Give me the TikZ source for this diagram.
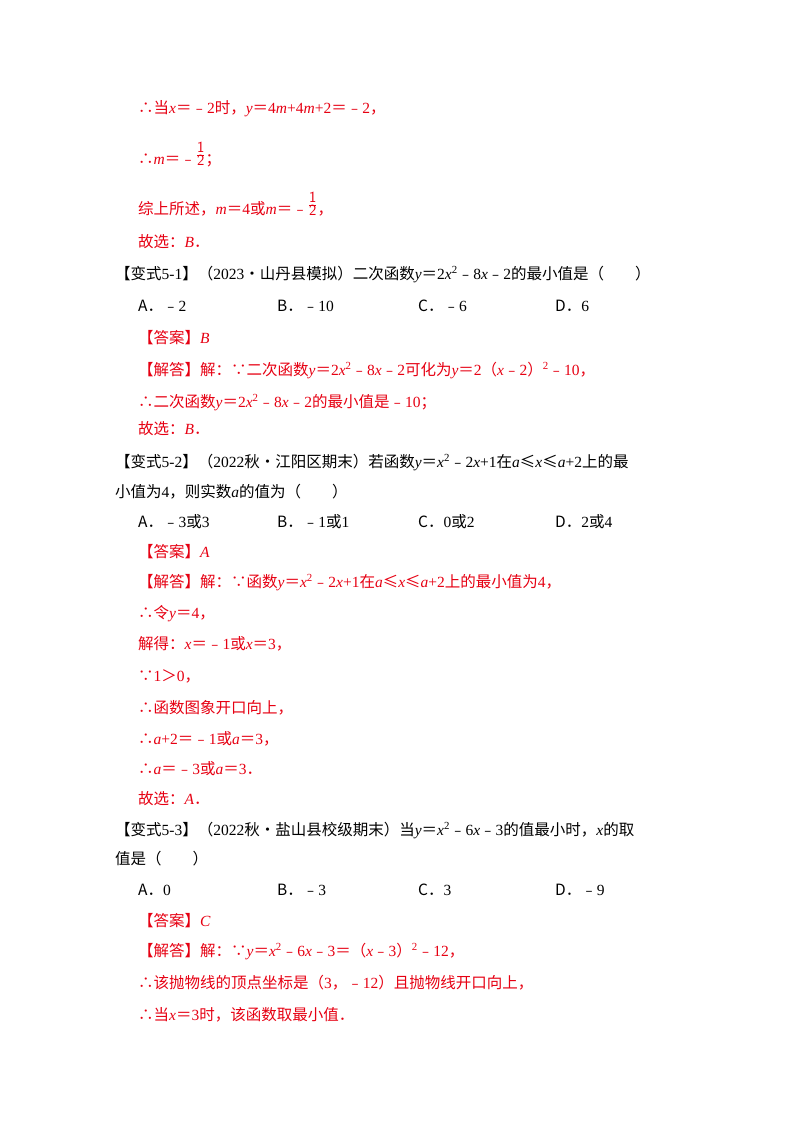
\documentclass[tikz,border=0pt]{standalone}
\usepackage{fontspec}
\setmainfont{Noto Sans CJK SC}
\newfontfamily\lt{Liberation Serif}
\newcommand\iv[1]{{\lt\itshape #1}}
\newcommand\n[1]{{\lt #1}}
\newcommand\half{\raisebox{0.35em}{$\frac{\textsf{1}}{\textsf{2}}$}}
\definecolor{rd}{RGB}{230,0,18}
\begin{document}
\begin{tikzpicture}[x=1pt,y=-1pt,
 t/.style={anchor=base west,inner sep=0,font=\fontsize{15.5}{16}\selectfont},
 r/.style={t,text=rd}]
\useasboundingbox (0,0) rectangle (800,1132);
\node[r] (l1) at (138,113) {∴当\iv{x}＝﹣\n{2}时，\iv{y}＝\n{4}\iv{m}\n{+4}\iv{m}\n{+2}＝﹣\n{2}，};
\node[r] (l2) at (138,164) {∴\iv{m}＝﹣\half；};
\node[r] (l3) at (138,214) {综上所述，\iv{m}＝\n{4}或\iv{m}＝﹣\half，};
\node[r] (l4) at (138,247) {故选：\iv{B}．};
\node[t] (q1) at (115,279) {【变式\n{5-1}】（\n{2023}•山丹县模拟）二次函数\iv{y}＝\n{2}\iv{x}\textsuperscript{\n{2}}﹣\n{8}\iv{x}﹣\n{2}的最小值是（\quad\quad）};
\node[t] (a1) at (138,311) {A．﹣\n{2}};
\node[t] (b1) at (277,311) {B．﹣\n{10}};
\node[t] (c1) at (418,311) {C．﹣\n{6}};
\node[t] (d1) at (555,311) {D．\n{6}};
\node[r] (k1) at (138,343) {【答案】\iv{B}};
\node[r] (s1) at (138,375) {【解答】解：∵二次函数\iv{y}＝\n{2}\iv{x}\textsuperscript{\n{2}}﹣\n{8}\iv{x}﹣\n{2}可化为\iv{y}＝\n{2}（\iv{x}﹣\n{2}）\textsuperscript{\n{2}}﹣\n{10}，};
\node[r] (s2) at (138,407) {∴二次函数\iv{y}＝\n{2}\iv{x}\textsuperscript{\n{2}}﹣\n{8}\iv{x}﹣\n{2}的最小值是﹣\n{10}；};
\node[r] (s3) at (138,434) {故选：\iv{B}．};
\node[t] (q2) at (115,467) {【变式\n{5-2}】（\n{2022}秋•江阳区期末）若函数\iv{y}＝\iv{x}\textsuperscript{\n{2}}﹣\n{2}\iv{x}\n{+1}在\iv{a}≤\iv{x}≤\iv{a}\n{+2}上的最};
\node[t] (q2b) at (115,497) {小值为\n{4}，则实数\iv{a}的值为（\quad\quad）};
\node[t] (a2) at (138,527) {A．﹣\n{3}或\n{3}};
\node[t] (b2) at (277,527) {B．﹣\n{1}或\n{1}};
\node[t] (c2) at (418,527) {C．\n{0}或\n{2}};
\node[t] (d2) at (555,527) {D．\n{2}或\n{4}};
\node[r] (k2) at (138,557) {【答案】\iv{A}};
\node[r] (u1) at (138,587) {【解答】解：∵函数\iv{y}＝\iv{x}\textsuperscript{\n{2}}﹣\n{2}\iv{x}\n{+1}在\iv{a}≤\iv{x}≤\iv{a}\n{+2}上的最小值为\n{4}，};
\node[r] (u2) at (138,618) {∴令\iv{y}＝\n{4}，};
\node[r] (u3) at (138,649) {解得：\iv{x}＝﹣\n{1}或\iv{x}＝\n{3}，};
\node[r] (u4) at (138,681) {∵\n{1}＞\n{0}，};
\node[r] (u5) at (138,713) {∴函数图象开口向上，};
\node[r] (u6) at (138,744) {∴\iv{a}\n{+2}＝﹣\n{1}或\iv{a}＝\n{3}，};
\node[r] (u7) at (138,774) {∴\iv{a}＝﹣\n{3}或\iv{a}＝\n{3}．};
\node[r] (u8) at (138,804) {故选：\iv{A}．};
\node[t] (q3) at (115,835) {【变式\n{5-3}】（\n{2022}秋•盐山县校级期末）当\iv{y}＝\iv{x}\textsuperscript{\n{2}}﹣\n{6}\iv{x}﹣\n{3}的值最小时，\iv{x}的取};
\node[t] (q3b) at (115,864) {值是（\quad\quad）};
\node[t] (a3) at (138,895) {A．\n{0}};
\node[t] (b3) at (277,895) {B．﹣\n{3}};
\node[t] (c3) at (418,895) {C．\n{3}};
\node[t] (d3) at (555,895) {D．﹣\n{9}};
\node[r] (k3) at (138,926) {【答案】\iv{C}};
\node[r] (w1) at (138,956) {【解答】解：∵\iv{y}＝\iv{x}\textsuperscript{\n{2}}﹣\n{6}\iv{x}﹣\n{3}＝（\iv{x}﹣\n{3}）\textsuperscript{\n{2}}﹣\n{12}，};
\node[r] (w2) at (138,988) {∴该抛物线的顶点坐标是（\n{3}，﹣\n{12}）且抛物线开口向上，};
\node[r] (w3) at (138,1020) {∴当\iv{x}＝\n{3}时，该函数取最小值．};
\end{tikzpicture}
\end{document}
